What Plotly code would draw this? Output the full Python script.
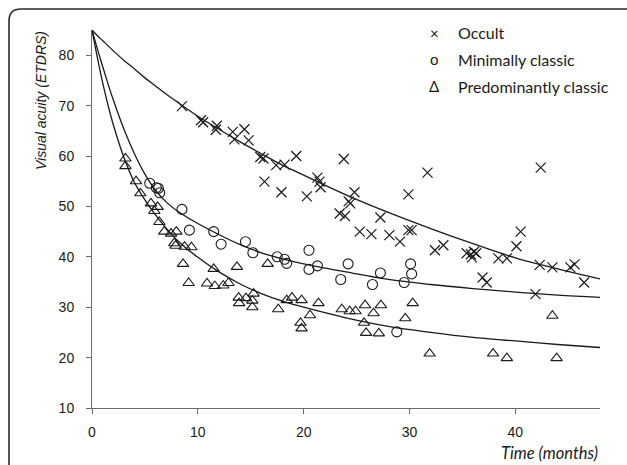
import plotly.graph_objects as go

# Observed visual acuity (ETDRS letters) over time (months), by lesion type
occult_t = [8.5, 10.3, 10.5, 11.8, 11.7, 13.3, 14.4, 13.45, 14.8, 15.9, 16.2, 17.4, 18.2, 19.3,
            23.8, 16.3, 17.9, 20.3, 21.3, 21.5, 21.6, 24.8, 24.25, 24.4, 23.4, 23.9, 27.25,
            25.3, 26.4, 28.1, 29.1, 31.7, 29.9, 42.4, 29.9, 30.2, 32.4, 33.2, 35.4, 35.8,
            36.1, 35.9, 36.3, 36.9, 37.3, 38.4, 39.2, 40.1, 40.5, 42.3, 43.5, 41.9, 45.2,
            45.6, 46.5]
occult_va = [69.9, 67.1, 66.7, 66.0, 65.2, 64.8, 65.3, 63.3, 63.1, 59.8, 59.5, 58.2, 58.3, 60.0,
             59.4, 54.9, 52.8, 52.0, 55.7, 54.9, 53.8, 52.8, 51.0, 50.6, 48.6, 48.1, 47.8,
             45.0, 44.5, 44.3, 43.0, 56.7, 52.4, 57.7, 45.3, 45.3, 41.3, 42.3, 40.7, 40.5,
             41.0, 39.9, 40.7, 35.9, 34.9, 39.7, 39.7, 42.1, 45.0, 38.4, 37.9, 32.6, 37.9,
             38.5, 34.9]

minimal_t = [5.45, 6.08, 6.27, 6.4, 8.5, 9.2, 11.5, 12.2, 14.5, 15.2, 17.5, 18.2, 18.4, 20.5,
             20.5, 21.3, 24.2, 23.5, 26.5, 27.25, 28.8, 30.1, 30.2, 29.5]
minimal_va = [54.6, 53.7, 53.6, 52.7, 49.4, 45.3, 45.0, 42.5, 43.0, 40.8, 40.0, 39.5, 38.7, 41.3,
              37.5, 38.2, 38.6, 35.5, 34.5, 36.8, 25.1, 38.6, 36.6, 34.9]

predom_t = [3.16, 3.16, 4.16, 4.57, 5.57, 6.2, 5.89, 6.36, 6.83, 7.47, 7.97, 7.78, 7.9, 8.75,
            9.39, 8.6, 9.13, 11.5, 13.7, 10.87, 11.6, 12.4, 12.9, 13.86, 14.55, 15.27, 13.9,
            15.15, 15.15, 16.6, 17.6, 18.4, 18.9, 19.8, 21.4, 19.7, 19.8, 20.6, 23.6, 24.35,
            24.9, 25.8, 26.6, 27.3, 25.7, 25.9, 27.1, 30.3, 29.6, 31.9, 37.9, 39.2, 43.5, 43.9]
predom_va = [59.5, 58.0, 55.0, 52.6, 50.6, 49.9, 49.1, 46.9, 45.0, 44.6, 45.0, 42.7, 42.2, 42.0,
             41.9, 38.6, 34.8, 37.6, 38.0, 34.7, 34.2, 34.3, 34.8, 31.9, 31.8, 32.7, 30.8,
             31.3, 30.0, 38.6, 29.6, 31.4, 31.9, 31.4, 30.8, 26.9, 25.8, 28.4, 29.6, 29.2,
             29.2, 30.4, 28.8, 30.4, 26.9, 24.9, 24.8, 30.8, 27.8, 20.8, 20.8, 19.9, 28.3, 19.9]

# Fitted trend curves, tabulated against time
curve_t = [0, 0.5, 1, 1.5, 2, 3, 4, 5, 6, 7, 8, 10, 12, 14, 16, 18, 20, 24, 28, 32, 36, 40, 44, 48]
occult_fit = [85, 83.9, 82.9, 81.9, 80.9, 79.0, 77.3, 75.5, 73.9, 72.3, 70.8, 67.9, 65.3, 62.8,
              60.45, 58.2, 56.2, 52.3, 48.8, 45.6, 42.6, 39.8, 37.6, 35.6]
minimal_fit = [85, 81.3, 77.8, 74.4, 71.2, 65.4, 60.5, 56.4, 53.2, 50.9, 49.2, 46.6, 44.4, 42.4,
               40.8, 39.6, 38.6, 37.0, 35.5, 34.5, 33.7, 33.0, 32.4, 31.95]
predom_fit = [85, 79.6, 74.6, 70.2, 66.3, 59.8, 54.8, 51.3, 48.3, 45.7, 43.4, 39.9, 37.0, 34.6,
              32.7, 31.2, 30.0, 27.9, 26.2, 25.0, 24.0, 23.3, 22.6, 22.0]

x_ticks = [0, 10, 20, 30, 40]
y_ticks = [10, 20, 30, 40, 50, 60, 70, 80]
legend_labels = ["Occult", "Minimally classic", "Predominantly classic"]
legend_glyphs = ["\u00d7", "o", "\u0394"]

W, H = 627, 465
L, R, T, B = 92, 27, 30, 57
PW, PH = W - L - R, H - T - B


def px(x):
    return (x - L) / PW


def py(y):
    return (H - B - y) / PH


INK = "#1a1a1a"
AXIS = "#6b6b6b"

fig = go.Figure()

for fit in (occult_fit, minimal_fit, predom_fit):
    fig.add_trace(go.Scatter(x=curve_t, y=fit, mode="lines", line_shape="spline",
                             line=dict(color=INK, width=1.3), hoverinfo="skip",
                             showlegend=False))

fig.add_trace(go.Scatter(x=occult_t, y=occult_va, mode="markers", name=legend_labels[0],
                         marker=dict(symbol="x-thin-open", size=10, color=INK,
                                     line=dict(color=INK, width=1.2)),
                         showlegend=False))
fig.add_trace(go.Scatter(x=minimal_t, y=minimal_va, mode="markers", name=legend_labels[1],
                         marker=dict(symbol="circle-open", size=10, color=INK,
                                     line=dict(color=INK, width=1.1)),
                         showlegend=False))
fig.add_trace(go.Scatter(x=predom_t, y=predom_va, mode="markers", name=legend_labels[2],
                         marker=dict(symbol="triangle-up-open", size=10, color=INK,
                                     line=dict(color=INK, width=1.1)),
                         showlegend=False))

annotations = []
legend_rows = [32.7, 59.3, 86.0]
for glyph, label, row in zip(legend_glyphs, legend_labels, legend_rows):
    annotations.append(dict(x=px(434), y=py(row), xref="paper", yref="paper",
                            text=glyph, showarrow=False, xanchor="center", yanchor="middle",
                            font=dict(family="Lato, Open Sans, DejaVu Sans", size=15, color=INK)))
    annotations.append(dict(x=px(456), y=py(row), xref="paper", yref="paper",
                            text=label, showarrow=False, xanchor="left", yanchor="middle",
                            font=dict(family="Lato, Open Sans", size=16, color=INK)))

annotations.append(dict(x=px(41), y=py(101), xref="paper", yref="paper",
                        text="<i>Visual acuity (ETDRS)</i>", textangle=-90, showarrow=False,
                        xanchor="center", yanchor="middle",
                        font=dict(family="Liberation Sans, Arial", size=14, color=INK)))
annotations.append(dict(x=px(600), y=py(453), xref="paper", yref="paper",
                        text="<i>Time (months)</i>", showarrow=False,
                        xanchor="right", yanchor="middle",
                        font=dict(family="Lato, Open Sans", size=16.5, color=INK)))

# Rounded outer frame, running off the right and bottom edges
frame = (f"M {px(9)} {py(480)} L {px(9)} {py(21)} "
         f"Q {px(9)} {py(9)} {px(21)} {py(9)} L {px(650)} {py(9)}")

fig.update_layout(
    width=W, height=H,
    margin=dict(l=L, r=R, t=T, b=B, pad=0),
    paper_bgcolor="white", plot_bgcolor="white",
    showlegend=False,
    annotations=annotations,
    shapes=[dict(type="path", path=frame, xref="paper", yref="paper",
                 line=dict(color="#2a2a2a", width=1.6), layer="above")],
    xaxis=dict(range=[0, 48], tickvals=x_ticks, showgrid=False, zeroline=False,
               showline=True, linecolor=AXIS, linewidth=1, ticks="outside", ticklen=5,
               tickcolor=AXIS, ticklabelstandoff=6,
               tickfont=dict(family="Liberation Sans, Arial", size=14, color=INK)),
    yaxis=dict(range=[10, 85], tickvals=y_ticks, showgrid=False, zeroline=False,
               showline=True, linecolor=AXIS, linewidth=1, ticks="outside", ticklen=5,
               tickcolor=AXIS, ticklabelstandoff=9,
               tickfont=dict(family="Liberation Sans, Arial", size=14, color=INK)),
)

fig.write_html("out.html")
